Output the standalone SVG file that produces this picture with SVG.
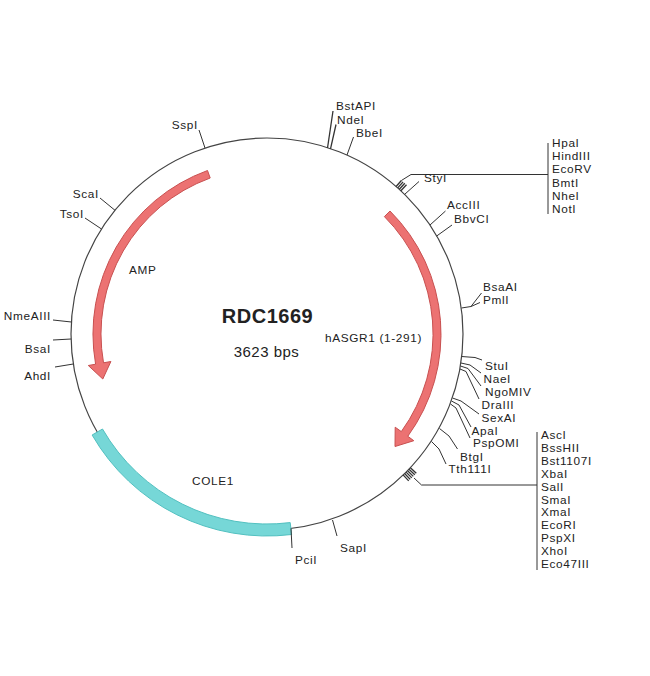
<svg xmlns="http://www.w3.org/2000/svg" width="650" height="676" viewBox="0 0 650 676">
<style>
text{font-family:"Liberation Sans",Arial,sans-serif;font-size:11.8px;fill:#222;letter-spacing:0.65px}
.ln{fill:none;stroke:#333;stroke-width:1}
.tk{fill:none;stroke:#333;stroke-width:1.3}
.bb{fill:none;stroke:#444;stroke-width:1.2}
.red{fill:#EC7272;stroke:#C85050;stroke-width:1}
.cyan{fill:#76D7D7;stroke:#52C0C0;stroke-width:1}
.e{text-anchor:end}
</style>
<rect width="650" height="676" fill="#fff"/>
<g id="backbone"><circle class="bb" cx="267" cy="334" r="196"/></g>
<g id="cole1">
<path class="cyan" d="M291.6,534.5 A202,202 0 0 1 92.1,435 L102.5,429 A190,190 0 0 0 290.2,522.6 Z"/>
<text x="192" y="485">COLE1</text>
</g>
<g id="amp">
<path class="red" d="M207.5,170.5 A174,174 0 0 0 95.6,364.2 L88.3,365.5 L102.8,379 L110.9,361.5 L103.5,362.8 A166,166 0 0 1 210.2,178 Z"/>
<text x="129" y="274">AMP</text>
</g>
<g id="hasgr1">
<path class="red" d="M390,211 A174,174 0 0 1 407.8,436.3 L413.8,440.7 L395,446.5 L395.2,427.2 L401.3,431.6 A166,166 0 0 0 384.4,216.6 Z"/>
<text x="325" y="342">hASGR1 (1-291)</text>
</g>
<g id="title">
<text x="267.5" y="323" text-anchor="middle" style="font-size:20px;font-weight:bold;letter-spacing:0.5px">RDC1669</text>
<text x="266.5" y="356.5" text-anchor="middle" style="font-size:15px;letter-spacing:0.5px">3623 bps</text>
</g>
<g id="connectors">
<polyline class="tk" points="327.5,148 333,111"/>
<polyline class="tk" points="330.5,148.8 336,124.5"/>
<polyline class="ln" points="347,155 353.5,137"/>
<line class="tk" x1="396.1" y1="186.5" x2="401.4" y2="180.5"/>
<line class="tk" x1="397.7" y1="187.9" x2="403.1" y2="181.9"/>
<line class="tk" x1="399.3" y1="189.3" x2="404.8" y2="183.3"/>
<line class="tk" x1="400.9" y1="190.7" x2="406.5" y2="184.8"/>
<polyline class="ln" points="401.4,180.5 411,174.5 548,174.5"/>
<line class="ln" x1="548" y1="143" x2="548" y2="214"/>
<polyline class="ln" points="404.6,194.4 419,181.5"/>
<polyline class="ln" points="430,225 445.5,211"/>
<polyline class="ln" points="436.7,236 452,225"/>
<polyline class="ln" points="461.5,308 471,306.5 481.5,293"/>
<polyline class="ln" points="471,306.5 480,302.5"/>
<polyline class="ln" points="461.7,356.5 475,357.5 482,360"/>
<polyline class="ln" points="461,363 470,365 481,373"/>
<polyline class="ln" points="460.5,366 468,368.5 481,386"/>
<polyline class="ln" points="460,369 466,371.5 479,399"/>
<polyline class="ln" points="452.5,398 461,401 479,414"/>
<polyline class="ln" points="451.5,401 459,405 471,427"/>
<polyline class="ln" points="450.5,404 456,408 470,438"/>
<polyline class="ln" points="439.5,428.5 449,436 457.5,449"/>
<polyline class="ln" points="431.5,441.5 439,449 446,464"/>
<line class="tk" x1="410.4" y1="467.7" x2="416.3" y2="473.3"/>
<line class="tk" x1="409" y1="469.2" x2="414.8" y2="474.8"/>
<line class="tk" x1="407.6" y1="470.7" x2="413.3" y2="476.4"/>
<line class="tk" x1="406.1" y1="472.1" x2="411.8" y2="477.9"/>
<line class="tk" x1="404.6" y1="473.5" x2="410.2" y2="479.4"/>
<line class="tk" x1="403.1" y1="474.9" x2="408.7" y2="480.9"/>
<polyline class="ln" points="414,478 421.5,485 537,485"/>
<line class="ln" x1="537" y1="432" x2="537" y2="570"/>
<polyline class="ln" points="332.5,520 337,536"/>
<polyline class="ln" points="291,528.5 292,548"/>
<polyline class="ln" points="205,148 199,130"/>
<polyline class="ln" points="115,210.3 100,198"/>
<polyline class="ln" points="101.5,229 85,218"/>
<polyline class="ln" points="71.4,322 53,320"/>
<polyline class="ln" points="71.1,339 53,340"/>
<polyline class="ln" points="73.3,364 55,367"/>
</g>
<g id="sites-top">
<text x="336" y="110">BstAPI</text>
<text x="337" y="123.5">NdeI</text>
<text x="356" y="136.5">BbeI</text>
<text x="424" y="182">StyI</text>
<text x="552" y="147">HpaI</text>
<text x="552" y="160.2">HindIII</text>
<text x="552" y="173.4">EcoRV</text>
<text x="552" y="186.6">BmtI</text>
<text x="552" y="199.8">NheI</text>
<text x="552" y="213">NotI</text>
<text x="447" y="209">AccIII</text>
<text x="454" y="222.5">BbvCI</text>
</g>
<g id="sites-right">
<text x="483" y="290.5">BsaAI</text>
<text x="483" y="304">PmlI</text>
<text x="485" y="370">StuI</text>
<text x="483.5" y="383">NaeI</text>
<text x="485" y="395.5">NgoMIV</text>
<text x="481.5" y="408.5">DraIII</text>
<text x="481.5" y="421.5">SexAI</text>
<text x="471.5" y="434.5">ApaI</text>
<text x="473" y="447">PspOMI</text>
<text x="460" y="460.5">BtgI</text>
<text x="448.5" y="473">Tth111I</text>
</g>
<g id="sites-bottom-list">
<text x="541" y="439">AscI</text>
<text x="541" y="451.9">BssHII</text>
<text x="541" y="464.8">Bst1107I</text>
<text x="541" y="477.7">XbaI</text>
<text x="541" y="490.6">SalI</text>
<text x="541" y="503.5">SmaI</text>
<text x="541" y="516.4">XmaI</text>
<text x="541" y="529.3">EcoRI</text>
<text x="541" y="542.2">PspXI</text>
<text x="541" y="555.1">XhoI</text>
<text x="541" y="568">Eco47III</text>
</g>
<g id="sites-bottom">
<text x="340" y="552">SapI</text>
<text x="295" y="564">PciI</text>
</g>
<g id="sites-left">
<text class="e" x="198" y="129">SspI</text>
<text class="e" x="99" y="198">ScaI</text>
<text class="e" x="84" y="218">TsoI</text>
<text class="e" x="51" y="320">NmeAIII</text>
<text class="e" x="51" y="353">BsaI</text>
<text class="e" x="51" y="380">AhdI</text>
</g>
</svg>
